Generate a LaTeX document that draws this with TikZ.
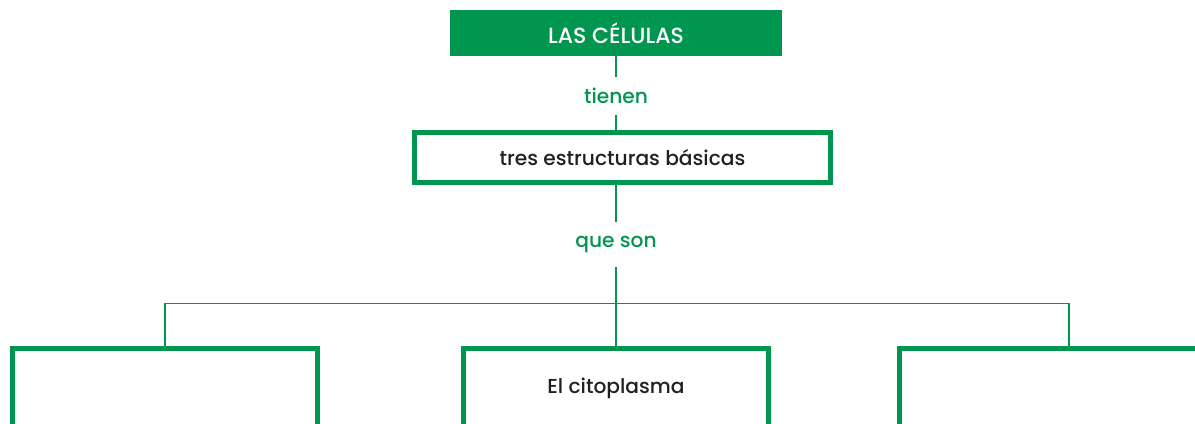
\documentclass[tikz,border=0pt]{standalone}
\usepackage{fontspec}
\setmainfont{Poppins}
\newfontfamily\cellmedium{Poppins Medium}
\usetikzlibrary{positioning}
\definecolor{cellgreen}{RGB}{0,150,80}
\definecolor{inktext}{RGB}{35,31,32}
\begin{document}
\begin{tikzpicture}[x=0.02cm, y=-0.02cm,
  title node/.style={fill=cellgreen, text=white, minimum width=6.64cm, minimum height=0.92cm, inner sep=0pt, font=\cellmedium\fontsize{12.5}{14}\selectfont},
  frame node/.style={draw=cellgreen, line width=0.1cm, inner sep=0pt, text=inktext, font=\cellmedium\fontsize{11.5}{13}\selectfont},
  link label/.style={text=cellgreen, inner sep=0pt, minimum width=1cm, font=\cellmedium\fontsize{11.5}{13}\selectfont},
  link/.style={draw=cellgreen, line width=0.7pt}]
\useasboundingbox (0,0) rectangle (1195,423);
\clip (0,0) rectangle (1195,423);
% top
\node[title node] (celulas) at (616,33) {LAS CÉLULAS};
\node[link label, minimum height=0.76cm] (tienen) at (616,96) {tienen};
\node[frame node, minimum width=8.32cm, minimum height=1cm] (tres) at (622.5,157.5) {tres estructuras básicas};
\node[link label, minimum height=0.9cm] (queson) at (616,244.5) {que son};
% bottom row
\node[frame node, anchor=north, minimum width=6.1cm, minimum height=4cm] (bleft) at (165,345.5) {};
\node[frame node, anchor=north, minimum width=6.1cm, minimum height=4cm] (bmid) at (616,345.5) {};
\node[frame node, anchor=north, minimum width=6.78cm, minimum height=4cm] (bright) at (1069,345.5) {};
\node[text=inktext, inner sep=0pt, font=\cellmedium\fontsize{11.5}{13}\selectfont] (cito) at (616,388) {El citoplasma};
\coordinate (bus) at (616,303.5);
% connectors
\draw[link] (celulas.south) -- (tienen.north);
\draw[link] (tienen.south) -- (tienen.south |- tres.north);
\draw[link] (tienen.south |- tres.south) -- (queson.north);
\draw[link] (queson.south) -- (bmid.north);
\draw[link] (bleft.north) |- (bus) -| (bright.north);
\end{tikzpicture}
\end{document}
